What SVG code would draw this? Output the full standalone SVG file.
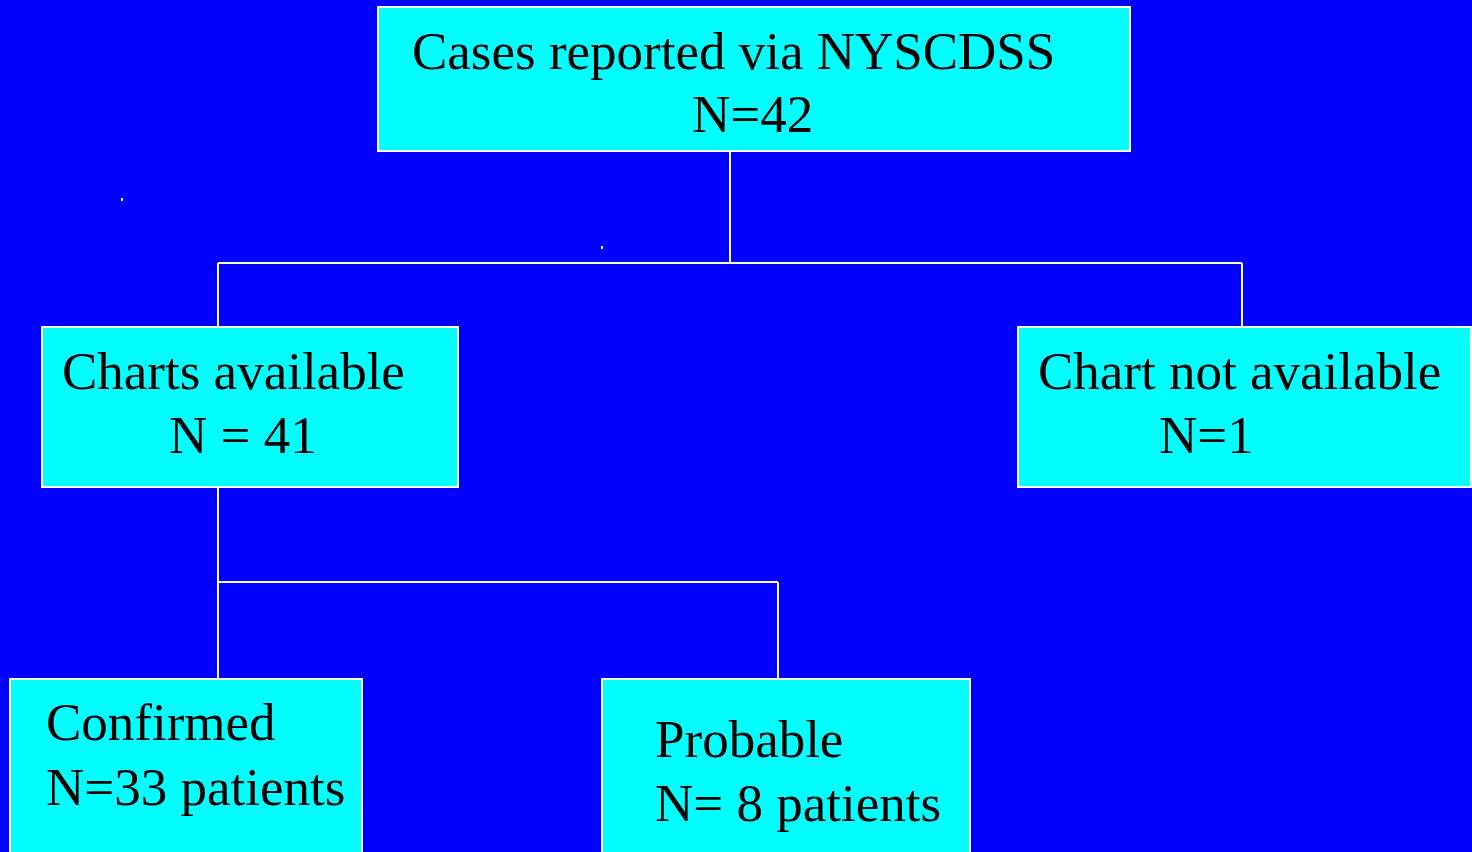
<svg xmlns="http://www.w3.org/2000/svg" width="1472" height="852" viewBox="0 0 1472 852">
<style>
.box{fill:#00FFFF;stroke:#FFFFFF;stroke-width:2}
.t{font-family:"Liberation Serif","Times New Roman",serif;font-size:53px;fill:#000000}
.c{fill:none;stroke:#FFFFFF;stroke-width:2}
</style>
<rect x="0" y="0" width="1472" height="852" fill="#0000FF"/>
<rect x="121" y="198" width="2" height="3" fill="#FFFFFF"/>
<rect x="601" y="246" width="2" height="3" fill="#FFFFFF"/>
<g id="connectors">
<path class="c" d="M730,151 V263 M218,263 H1242 M218,263 V327 M1242,263 V327"/>
<path class="c" d="M218,487 V582 M218,582 H778 M218,582 V679 M778,582 V679"/>
</g>
<g id="node-reported">
<rect class="box" x="378" y="7" width="752" height="144"/>
<text class="t" x="412" y="69">Cases reported via NYSCDSS</text>
<text class="t" x="692" y="132">N=42</text>
</g>
<g id="node-charts-available">
<rect class="box" x="42" y="327" width="416" height="160"/>
<text class="t" x="62" y="389">Charts available</text>
<text class="t" x="169" y="453">N = 41</text>
</g>
<g id="node-chart-not-available">
<rect class="box" x="1018" y="327" width="453" height="160"/>
<text class="t" x="1038" y="389">Chart not available</text>
<text class="t" x="1159" y="453">N=1</text>
</g>
<g id="node-confirmed">
<rect class="box" x="10" y="679" width="352" height="180"/>
<text class="t" x="46" y="740">Confirmed</text>
<text class="t" x="46" y="805">N=33 patients</text>
</g>
<g id="node-probable">
<rect class="box" x="602" y="679" width="368" height="180"/>
<text class="t" x="655" y="757">Probable</text>
<text class="t" x="655" y="821">N= 8 patients</text>
</g>
</svg>
